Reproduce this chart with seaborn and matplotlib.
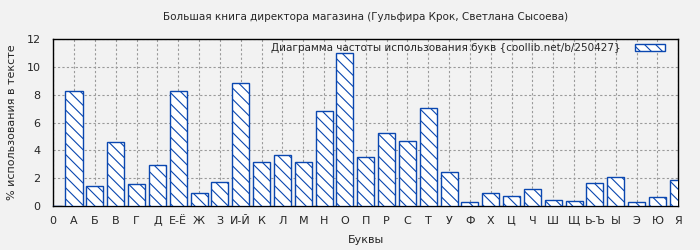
import matplotlib
matplotlib.use("Agg")
import matplotlib.pyplot as plt
import seaborn as sns
import pandas as pd

letters = ["0", "А", "Б", "В", "Г", "Д", "Е-Ё", "Ж", "З", "И-Й", "К", "Л", "М", "Н", "О",
           "П", "Р", "С", "Т", "У", "Ф", "Х", "Ц", "Ч", "Ш", "Щ", "Ь-Ъ", "Ы", "Э", "Ю", "Я"]
percent = [0.0, 8.3, 1.44, 4.58, 1.56, 2.93, 8.3, 0.91, 1.7, 8.83, 3.2, 3.65, 3.14, 6.83, 10.98,
           3.5, 5.23, 4.65, 7.03, 2.42, 0.26, 0.91, 0.72, 1.2, 0.41, 0.34, 1.63, 2.09, 0.26, 0.62, 1.85]

title = "Большая книга директора магазина (Гульфира Крок, Светлана Сысоева)"
legend_label = "Диаграмма частоты использования букв {coollib.net/b/250427}"

sns.set_style("white")
plt.rcParams["font.family"] = ["DejaVu Sans"]
plt.rcParams["hatch.linewidth"] = 0.8
plt.rcParams["hatch.color"] = "#0a47b0"

df = pd.DataFrame({"letter": letters, "percent": percent})

fig = plt.figure(figsize=(7, 2.5), dpi=100, facecolor="#f2f2f2")
ax = fig.add_axes([0.076, 0.176, 0.893, 0.667])
ax.set_facecolor("#f2f2f2")

sns.barplot(data=df, x="letter", y="percent", ax=ax, color="white", width=0.82,
            edgecolor="#0a47b0", linewidth=1.0, hatch="\\\\\\", label=legend_label,
            zorder=3)

ax.set_xlim(0, 30)
ax.set_ylim(0, 12)
ax.set_yticks(range(0, 13, 2))
ax.grid(True, color="#9a9a9a", linestyle=(0, (2, 2)), linewidth=0.8, zorder=0)
ax.set_axisbelow(True)
for s in ax.spines.values():
    s.set_color("black")
    s.set_linewidth(1.0)
    s.set_visible(True)
ax.tick_params(axis="both", labelsize=8, length=3, color="black")
ax.tick_params(axis="y", pad=6)
ax.tick_params(axis="x", pad=4)

ax.set_title(title, fontsize=7.5, pad=14)
ax.set_xlabel("Буквы", fontsize=8, labelpad=7)
ax.set_ylabel("% использования в тексте", fontsize=8, labelpad=7)

leg = ax.legend(loc="upper right", frameon=False, fontsize=7.5, markerfirst=False,
                handlelength=2.9, handleheight=0.6, handletextpad=1.3,
                borderaxespad=1.2, borderpad=0.1)
leg.set_bbox_to_anchor((1.0, 1.0 + 0.95 * 7.5 / 72 * 100 / (250 * 0.667)), transform=ax.transAxes)

fig.savefig("out.png", dpi=100, facecolor="#f2f2f2")
